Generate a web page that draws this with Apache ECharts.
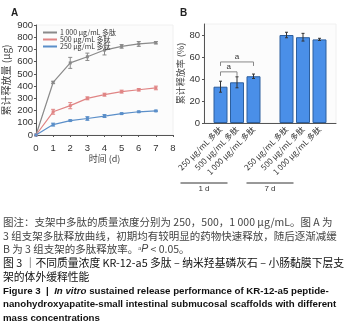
<!DOCTYPE html>
<html>
<head>
<meta charset="utf-8">
<script src="https://cdn.jsdelivr.net/npm/echarts@6/dist/echarts.min.js"></script>
<style>
html, body { margin: 0; padding: 0; background: #fff; }
#main { width: 345px; height: 323px; }
</style>
</head>
<body>
<div id="main"></div>
<script>
// 图 A: 累计释放量
var days = [0, 1, 2, 3, 4, 5, 6, 7];
var lineNames = ['1 000 μg/mL 多肽', '500 μg/mL 多肽', '250 μg/mL 多肽'];
var lineColors = ['#8a8a8a', '#e08585', '#5b8fc9'];
var rel1000 = [0, 430, 590, 640, 695, 725, 745, 755];
var err1000 = [0, 10, 45, 30, 40, 15, 20, 10];
var rel500 = [0, 190, 240, 300, 330, 355, 370, 385];
var err500 = [0, 20, 25, 12, 12, 12, 10, 15];
var rel250 = [0, 85, 118, 135, 155, 175, 190, 197];
var err250 = [0, 12, 5, 15, 12, 5, 5, 5];
var yTicksA = [0, 100, 200, 300, 400, 500, 600, 700, 800, 900];

// 图 B: 累计释放率
var barCats = ['', '250 μg/mL 多肽', '500 μg/mL 多肽', '1 000 μg/mL 多肽', '',
  '250 μg/mL 多肽', '500 μg/mL 多肽', '1 000 μg/mL 多肽', ''];
var rateVals = [null, 33, 37, 42.5, null, 80, 78, 76, null];
var rateErr = [null, 5, 5, 2, null, 2.5, 3.5, 1, null];
var groupNames = ['1 d', '7 d'];
var yTicksB = [0, 20, 40, 60, 80];

// 图注 (rich text: {i|...} is italic)
var caption = [
  '图注：支架中多肽的质量浓度分别为 250，500，1 000 μg/mL。图 A 为',
  '3 组支架多肽释放曲线，初期均有较明显的药物快速释放，随后逐渐减缓',
  'B 为 3 组支架的多肽释放率。ᵃ{i|P} < 0.05。'
];
var title = ['图 3 ｜不同质量浓度 KR-12-a5 多肽 – 纳米羟基磷灰石 – 小肠黏膜下层支', '架的体外缓释性能'];
var titleEn = [
  'Figure 3  |  {i|In vitro} sustained release performance of KR-12-a5 peptide-',
  'nanohydroxyapatite-small intestinal submucosal scaffolds with different',
  'mass concentrations'
];

var chart = echarts.init(document.getElementById('main'));

function pairs(xs, ys) {
  return xs.map(function (x, i) { return [x, ys[i]]; });
}
function errData(xs, ys, es) {
  var out = [];
  xs.forEach(function (x, i) {
    if (ys[i] != null && es[i]) out.push([x, ys[i] - es[i], ys[i] + es[i]]);
  });
  return out;
}
function errSeries(data, color, xi, yi, cap) {
  return {
    type: 'custom', xAxisIndex: xi, yAxisIndex: yi, z: 5, silent: true,
    data: data,
    renderItem: function (params, api) {
      var lo = api.coord([api.value(0), api.value(1)]);
      var hi = api.coord([api.value(0), api.value(2)]);
      var st = { stroke: color, lineWidth: 1 };
      return {
        type: 'group', children: [
          { type: 'line', shape: { x1: lo[0], y1: lo[1], x2: hi[0], y2: hi[1] }, style: st },
          { type: 'line', shape: { x1: lo[0] - cap, y1: lo[1], x2: lo[0] + cap, y2: lo[1] }, style: st },
          { type: 'line', shape: { x1: hi[0] - cap, y1: hi[1], x2: hi[0] + cap, y2: hi[1] }, style: st }
        ]
      };
    }
  };
}

var axisTxt = { color: '#333', fontSize: 9.5, fontFamily: 'Liberation Sans' };
var cjk = 'Noto Sans CJK SC';
var relData = [rel1000, rel500, rel250];
var errs = [err1000, err500, err250];

var series = [];
relData.forEach(function (d, k) {
  series.push({
    name: lineNames[k], type: 'line', xAxisIndex: 0, yAxisIndex: 0,
    data: pairs(days, d), color: lineColors[k],
    symbol: 'rect', symbolSize: 3, lineStyle: { width: 1.2 }
  });
});
relData.forEach(function (d, k) {
  series.push(errSeries(errData(days, d, errs[k]), lineColors[k], 0, 0, 2));
});
series.push({
  type: 'bar', xAxisIndex: 1, yAxisIndex: 1, data: rateVals, barWidth: 14,
  itemStyle: { color: '#4a8fe8', borderColor: '#2d5f9e', borderWidth: 1 }
});
series.push(errSeries(errData(barCats.map(function (c, i) { return i; }), rateVals, rateErr), '#333', 1, 1, 1.5));

chart.setOption({
  animation: false,
  textStyle: { fontFamily: cjk },
  grid: [
    { left: 35, top: 25, width: 138, height: 110, show: true, backgroundColor: '#fcfcfc', borderColor: '#f0f0f0' },
    { left: 204, top: 24, width: 132, height: 99, show: true, backgroundColor: '#fcfcfc', borderColor: '#f0f0f0' }
  ],
  legend: {
    orient: 'vertical', left: 38, top: 24, itemGap: 0, itemWidth: 14, itemHeight: 2,
    icon: 'rect', data: lineNames,
    textStyle: { fontSize: 7, color: '#333', fontFamily: cjk, padding: [0, 0, 0, -2] }
  },
  xAxis: [
    {
      gridIndex: 0, type: 'value', min: 0, max: 8, interval: 1,
      name: '时间 (d)', nameLocation: 'middle', nameGap: 16,
      nameTextStyle: { fontSize: 9, color: '#444', fontFamily: cjk },
      axisLine: { lineStyle: { color: '#555' } },
      axisTick: { length: 2, lineStyle: { color: '#555' } },
      axisLabel: axisTxt, splitLine: { show: false }
    },
    {
      gridIndex: 1, type: 'category', data: barCats, boundaryGap: false,
      axisLine: { lineStyle: { color: '#555' } },
      axisTick: { show: false },
      axisLabel: { interval: 0, rotate: 45, fontSize: 8, color: '#333', fontFamily: cjk, margin: 5 },
      splitLine: { show: false }
    }
  ],
  yAxis: [
    {
      gridIndex: 0, type: 'value', min: yTicksA[0], max: yTicksA[yTicksA.length - 1], interval: 100,
      name: '累计释放量 (μg)', nameLocation: 'middle', nameGap: 25,
      nameTextStyle: { fontSize: 10, color: '#444', fontFamily: cjk },
      axisLine: { show: true, lineStyle: { color: '#555' } },
      axisTick: { show: true, length: 2, lineStyle: { color: '#555' } },
      axisLabel: Object.assign({ margin: 3 }, axisTxt), splitLine: { show: false }
    },
    {
      gridIndex: 1, type: 'value', min: yTicksB[0], max: 90, interval: 20,
      name: '累计释放率 (%)', nameLocation: 'middle', nameGap: 18,
      nameTextStyle: { fontSize: 9, color: '#444', fontFamily: cjk },
      axisLine: { show: true, lineStyle: { color: '#555' } },
      axisTick: { show: true, length: 2, lineStyle: { color: '#555' } },
      axisLabel: Object.assign({ margin: 4, showMaxLabel: false }, axisTxt), splitLine: { show: false }
    }
  ],
  series: series
});

// brackets, group labels and caption placed from the chart's own scales
function px(i, v) { return chart.convertToPixel({ xAxisIndex: 1, yAxisIndex: 1 }, [i, v]); }
var g = [];
function bracket(i1, i2, v) {
  var a = px(i1, v), b = px(i2, v);
  var st = { stroke: '#888', lineWidth: 1 };
  g.push({ type: 'polyline', shape: { points: [[a[0], a[1] + 4], [a[0], a[1]], [b[0], b[1]], [b[0], b[1] + 4]] }, style: Object.assign({ fill: null }, st) });
  g.push({ type: 'text', x: (a[0] + b[0]) / 2, y: a[1] - 1, style: { text: 'a', fontSize: 8, fill: '#333', align: 'center', verticalAlign: 'bottom', fontFamily: 'Liberation Sans' } });
}
bracket(1, 3, 55.5);
bracket(1, 2, 46.5);

[[1, 3], [5, 7]].forEach(function (r, k) {
  var a = px(r[0], 0), b = px(r[1], 0);
  var y = a[1] + 60;
  g.push({ type: 'line', shape: { x1: a[0] - 40, y1: y, x2: b[0] - 26, y2: y }, style: { stroke: '#333', lineWidth: 1 } });
  g.push({ type: 'text', x: (a[0] + b[0]) / 2 - 33, y: y + 2, style: { text: groupNames[k], fontSize: 8, fill: '#333', align: 'center', fontFamily: 'Liberation Sans' } });
});

g.push({ type: 'text', x: 11, y: 8, style: { text: 'A', fontSize: 10, fontWeight: 'bold', fill: '#222', fontFamily: 'Liberation Sans' } });
g.push({ type: 'text', x: 180, y: 8, style: { text: 'B', fontSize: 10, fontWeight: 'bold', fill: '#222', fontFamily: 'Liberation Sans' } });

var yy = 222;
caption.forEach(function (t) {
  g.push({ type: 'text', x: 3, y: yy, style: {
    text: t, fontSize: 10.5, fill: '#444', verticalAlign: 'middle', fontFamily: cjk,
    rich: { i: { fontStyle: 'italic', fontSize: 10.5, fill: '#444', fontFamily: 'Liberation Sans' } }
  } });
  yy += 13.6;
});
yy += 0.5;
title.forEach(function (t) {
  g.push({ type: 'text', x: 3, y: yy, style: { text: t, fontSize: 10.8, fill: '#111', verticalAlign: 'middle', fontFamily: cjk } });
  yy += 13.8;
});
yy += 0.5;
titleEn.forEach(function (t) {
  g.push({ type: 'text', x: 3, y: yy, style: {
    text: t, fontSize: 9.7, fontWeight: 'bold', fill: '#111', verticalAlign: 'middle', fontFamily: 'Liberation Sans',
    rich: { i: { fontStyle: 'italic', fontWeight: 'bold', fontSize: 9.7, fill: '#111', fontFamily: 'Liberation Sans' } }
  } });
  yy += 13.4;
});
chart.setOption({ graphic: g });
</script>
</body>
</html>
